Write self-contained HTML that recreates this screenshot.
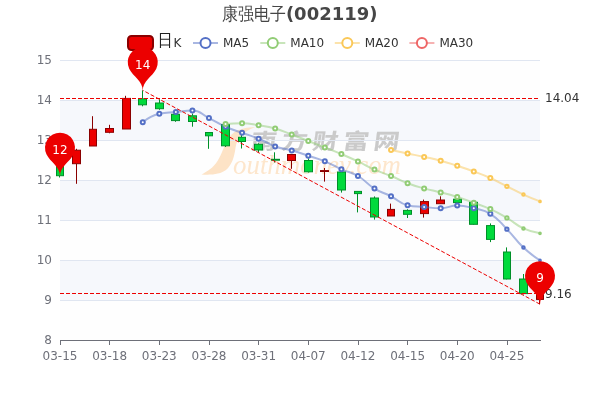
<!DOCTYPE html>
<html lang="zh"><head><meta charset="utf-8"><title>康强电子(002119)</title>
<style>html,body{margin:0;padding:0;background:#fff;overflow:hidden}svg{display:block;will-change:transform}text{font-family:'DejaVu Sans','Liberation Sans','WenQuanYi Zen Hei',sans-serif;font-size:12px}</style></head><body>
<svg width="600" height="400" viewBox="0 0 600 400">
<rect width="600" height="400" fill="#fff"/>
<rect x="60" y="60" width="480" height="40" fill="#fefefe"/>
<rect x="60" y="100" width="480" height="40" fill="#f6f8fc"/>
<rect x="60" y="140" width="480" height="40" fill="#fefefe"/>
<rect x="60" y="180" width="480" height="40" fill="#f6f8fc"/>
<rect x="60" y="220" width="480" height="40" fill="#fefefe"/>
<rect x="60" y="260" width="480" height="40" fill="#f6f8fc"/>
<rect x="60" y="300" width="480" height="40" fill="#fefefe"/>
<g id="wm">
<path d="M255.1 127.3C246 126.8 236 129.5 230 136C224 145 222 154 217.5 161C213 168 208 171 201.5 174.4C211 175.3 221 174 226 170C232 165 234.5 156 235.5 148C236.8 139 242 132 255.1 127.3Z" fill="#fde3c6"/>
<text transform="translate(250 148.8) skewX(-8) scale(1.2 1)" x="0 25.6 51.2 76.8 102.4" y="0" style="font-family:'Noto Sans CJK SC','WenQuanYi Zen Hei',sans-serif;font-weight:700;font-size:21.5px" fill="#cacaca" stroke="#cacaca" stroke-width="0.15">南方财富网</text>
<text style="font-family:'Liberation Serif','DejaVu Serif',serif;font-style:italic;font-size:27px" fill="#fde6cc"><tspan x="223.5" y="160" style="font-size:11px" fill="#fde3c6">S</tspan><tspan x="233" y="173.8" textLength="168" lengthAdjust="spacingAndGlyphs">outhmoney.com</tspan></text>
</g>
<rect x="60" y="60" width="480" height="1" fill="#E0E6F1"/>
<rect x="60" y="100" width="480" height="1" fill="#E0E6F1"/>
<rect x="60" y="140" width="480" height="1" fill="#E0E6F1"/>
<rect x="60" y="180" width="480" height="1" fill="#E0E6F1"/>
<rect x="60" y="220" width="480" height="1" fill="#E0E6F1"/>
<rect x="60" y="260" width="480" height="1" fill="#E0E6F1"/>
<rect x="60" y="300" width="480" height="1" fill="#E0E6F1"/>
<rect x="60" y="340" width="481" height="1" fill="#6E7079"/>
<rect x="60.0" y="340" width="1" height="5" fill="#6E7079"/>
<text x="60.00" y="360" text-anchor="middle" fill="#6E7079">03-15</text>
<rect x="109.0" y="340" width="1" height="5" fill="#6E7079"/>
<text x="109.66" y="360" text-anchor="middle" fill="#6E7079">03-18</text>
<rect x="159.0" y="340" width="1" height="5" fill="#6E7079"/>
<text x="159.31" y="360" text-anchor="middle" fill="#6E7079">03-23</text>
<rect x="209.0" y="340" width="1" height="5" fill="#6E7079"/>
<text x="208.97" y="360" text-anchor="middle" fill="#6E7079">03-28</text>
<rect x="258.0" y="340" width="1" height="5" fill="#6E7079"/>
<text x="258.62" y="360" text-anchor="middle" fill="#6E7079">03-31</text>
<rect x="308.0" y="340" width="1" height="5" fill="#6E7079"/>
<text x="308.28" y="360" text-anchor="middle" fill="#6E7079">04-07</text>
<rect x="358.0" y="340" width="1" height="5" fill="#6E7079"/>
<text x="357.93" y="360" text-anchor="middle" fill="#6E7079">04-12</text>
<rect x="407.0" y="340" width="1" height="5" fill="#6E7079"/>
<text x="407.59" y="360" text-anchor="middle" fill="#6E7079">04-15</text>
<rect x="457.0" y="340" width="1" height="5" fill="#6E7079"/>
<text x="457.24" y="360" text-anchor="middle" fill="#6E7079">04-20</text>
<rect x="507.0" y="340" width="1" height="5" fill="#6E7079"/>
<text x="506.90" y="360" text-anchor="middle" fill="#6E7079">04-25</text>
<text x="52" y="64.1" text-anchor="end" fill="#6E7079">15</text>
<text x="52" y="104.1" text-anchor="end" fill="#6E7079">14</text>
<text x="52" y="144.1" text-anchor="end" fill="#6E7079">13</text>
<text x="52" y="184.1" text-anchor="end" fill="#6E7079">12</text>
<text x="52" y="224.1" text-anchor="end" fill="#6E7079">11</text>
<text x="52" y="264.1" text-anchor="end" fill="#6E7079">10</text>
<text x="52" y="304.1" text-anchor="end" fill="#6E7079">9</text>
<text x="52" y="344.1" text-anchor="end" fill="#6E7079">8</text>
<g id="candles">
<path d="M59.5 163.0V163.0M59.5 175.7V177.5" stroke="#008F28" stroke-width="1" fill="none"/>
<rect x="56.5" y="163.0" width="7.0" height="12.7" fill="#00da3c" stroke="#008F28" stroke-width="1"/>
<path d="M76.5 148.8V150.2M76.5 163.7V183.8" stroke="#8A0000" stroke-width="1" fill="none"/>
<rect x="72.5" y="150.2" width="8.0" height="13.5" fill="#ec0000" stroke="#8A0000" stroke-width="1"/>
<path d="M92.5 116.2V129.3M92.5 146.0V146.0" stroke="#8A0000" stroke-width="1" fill="none"/>
<rect x="89.5" y="129.3" width="7.0" height="16.7" fill="#ec0000" stroke="#8A0000" stroke-width="1"/>
<path d="M109.5 124.8V128.5M109.5 132.3V133.3" stroke="#8A0000" stroke-width="1" fill="none"/>
<rect x="105.5" y="128.5" width="8.0" height="3.8" fill="#ec0000" stroke="#8A0000" stroke-width="1"/>
<path d="M125.5 95.8V98.4M125.5 129.0V129.0" stroke="#8A0000" stroke-width="1" fill="none"/>
<rect x="122.5" y="98.4" width="8.0" height="30.6" fill="#ec0000" stroke="#8A0000" stroke-width="1"/>
<path d="M142.5 90.3V98.8M142.5 104.8V106.3" stroke="#008F28" stroke-width="1" fill="none"/>
<rect x="138.5" y="98.8" width="8.0" height="6.0" fill="#00da3c" stroke="#008F28" stroke-width="1"/>
<path d="M159.5 99.3V103.0M159.5 108.7V109.8" stroke="#008F28" stroke-width="1" fill="none"/>
<rect x="155.5" y="103.0" width="8.0" height="5.7" fill="#00da3c" stroke="#008F28" stroke-width="1"/>
<path d="M175.5 112.8V114.3M175.5 120.6V121.8" stroke="#008F28" stroke-width="1" fill="none"/>
<rect x="171.5" y="114.3" width="8.0" height="6.3" fill="#00da3c" stroke="#008F28" stroke-width="1"/>
<path d="M192.5 113.5V115.8M192.5 121.5V126.7" stroke="#008F28" stroke-width="1" fill="none"/>
<rect x="188.5" y="115.8" width="8.0" height="5.7" fill="#00da3c" stroke="#008F28" stroke-width="1"/>
<path d="M208.5 132.5V132.5M208.5 135.8V148.8" stroke="#008F28" stroke-width="1" fill="none"/>
<rect x="205.5" y="132.5" width="7.0" height="3.3" fill="#00da3c" stroke="#008F28" stroke-width="1"/>
<path d="M225.5 122.5V124.5M225.5 145.8V147.0" stroke="#008F28" stroke-width="1" fill="none"/>
<rect x="221.5" y="124.5" width="8.0" height="21.3" fill="#00da3c" stroke="#008F28" stroke-width="1"/>
<path d="M241.5 135.0V137.3M241.5 141.5V148.5" stroke="#008F28" stroke-width="1" fill="none"/>
<rect x="238.5" y="137.3" width="7.0" height="4.2" fill="#00da3c" stroke="#008F28" stroke-width="1"/>
<path d="M258.5 143.3V144.3M258.5 150.0V152.3" stroke="#008F28" stroke-width="1" fill="none"/>
<rect x="254.5" y="144.3" width="8.0" height="5.7" fill="#00da3c" stroke="#008F28" stroke-width="1"/>
<path d="M274.5 152.3V159.3M274.5 160.2V162.5" stroke="#008F28" stroke-width="1" fill="none"/>
<rect x="271.5" y="159.3" width="8.0" height="0.9" fill="#00da3c" stroke="#008F28" stroke-width="1"/>
<path d="M291.5 154.0V154.5M291.5 160.5V168.8" stroke="#8A0000" stroke-width="1" fill="none"/>
<rect x="287.5" y="154.5" width="8.0" height="6.0" fill="#ec0000" stroke="#8A0000" stroke-width="1"/>
<path d="M308.5 158.3V160.5M308.5 171.8V172.5" stroke="#008F28" stroke-width="1" fill="none"/>
<rect x="304.5" y="160.5" width="8.0" height="11.3" fill="#00da3c" stroke="#008F28" stroke-width="1"/>
<path d="M324.5 168.0V170.6M324.5 171.5V181.6" stroke="#8A0000" stroke-width="1" fill="none"/>
<rect x="320.5" y="170.6" width="8.0" height="0.9" fill="#ec0000" stroke="#8A0000" stroke-width="1"/>
<path d="M341.5 172.0V172.0M341.5 190.0V192.6" stroke="#008F28" stroke-width="1" fill="none"/>
<rect x="337.5" y="172.0" width="8.0" height="18.0" fill="#00da3c" stroke="#008F28" stroke-width="1"/>
<path d="M357.5 191.4V191.4M357.5 193.6V212.4" stroke="#008F28" stroke-width="1" fill="none"/>
<rect x="354.5" y="191.4" width="7.0" height="2.2" fill="#00da3c" stroke="#008F28" stroke-width="1"/>
<path d="M374.5 196.4V198.0M374.5 217.0V219.6" stroke="#008F28" stroke-width="1" fill="none"/>
<rect x="370.5" y="198.0" width="8.0" height="19.0" fill="#00da3c" stroke="#008F28" stroke-width="1"/>
<path d="M390.5 203.6V209.4M390.5 216.0V216.0" stroke="#8A0000" stroke-width="1" fill="none"/>
<rect x="387.5" y="209.4" width="7.0" height="6.6" fill="#ec0000" stroke="#8A0000" stroke-width="1"/>
<path d="M407.5 209.3V210.4M407.5 214.3V218.0" stroke="#008F28" stroke-width="1" fill="none"/>
<rect x="403.5" y="210.4" width="8.0" height="3.9" fill="#00da3c" stroke="#008F28" stroke-width="1"/>
<path d="M423.5 199.6V201.6M423.5 213.6V217.6" stroke="#8A0000" stroke-width="1" fill="none"/>
<rect x="420.5" y="201.6" width="8.0" height="12.0" fill="#ec0000" stroke="#8A0000" stroke-width="1"/>
<path d="M440.5 196.3V200.0M440.5 203.7V204.0" stroke="#8A0000" stroke-width="1" fill="none"/>
<rect x="436.5" y="200.0" width="8.0" height="3.7" fill="#ec0000" stroke="#8A0000" stroke-width="1"/>
<path d="M456.5 197.4V199.2M456.5 202.6V202.6" stroke="#008F28" stroke-width="1" fill="none"/>
<rect x="453.5" y="199.2" width="8.0" height="3.4" fill="#00da3c" stroke="#008F28" stroke-width="1"/>
<path d="M473.5 201.5V202.3M473.5 224.3V224.8" stroke="#008F28" stroke-width="1" fill="none"/>
<rect x="469.5" y="202.3" width="8.0" height="22.0" fill="#00da3c" stroke="#008F28" stroke-width="1"/>
<path d="M490.5 223.4V225.6M490.5 239.4V242.1" stroke="#008F28" stroke-width="1" fill="none"/>
<rect x="486.5" y="225.6" width="8.0" height="13.8" fill="#00da3c" stroke="#008F28" stroke-width="1"/>
<path d="M506.5 247.4V252.0M506.5 279.0V279.4" stroke="#008F28" stroke-width="1" fill="none"/>
<rect x="503.5" y="252.0" width="7.0" height="27.0" fill="#00da3c" stroke="#008F28" stroke-width="1"/>
<path d="M523.5 274.0V279.0M523.5 293.6V294.4" stroke="#008F28" stroke-width="1" fill="none"/>
<rect x="519.5" y="279.0" width="8.0" height="14.6" fill="#00da3c" stroke="#008F28" stroke-width="1"/>
<path d="M539.5 293.2V293.2M539.5 299.4V304.2" stroke="#8A0000" stroke-width="1" fill="none"/>
<rect x="536.5" y="293.2" width="7.0" height="6.2" fill="#ec0000" stroke="#8A0000" stroke-width="1"/>
</g>
<defs><clipPath id="gc"><rect x="58" y="58" width="483" height="284"/></clipPath></defs>
<g id="MA5" clip-path="url(#gc)">
<path d="M142.76 122.20 C142.76 122.20 150.59 115.81 159.31 113.80 C167.14 112.00 167.58 112.83 175.86 112.00 C184.13 111.18 184.52 110.50 192.41 110.50 C201.07 110.50 200.79 114.09 208.97 118.10 C217.35 122.21 217.00 122.98 225.52 126.75 C233.55 130.30 233.79 129.75 242.07 132.75 C250.34 135.75 250.50 135.38 258.62 138.75 C267.05 142.25 266.60 143.47 275.17 146.50 C283.15 149.32 283.53 148.17 291.72 150.45 C300.08 152.77 300.03 153.00 308.28 155.70 C316.58 158.42 316.76 157.99 324.83 161.30 C333.31 164.79 332.98 165.57 341.38 169.30 C349.53 172.92 350.29 171.54 357.93 176.00 C366.84 181.19 365.67 183.19 374.48 188.60 C382.22 193.34 382.88 192.20 391.03 196.30 C399.44 200.53 398.80 203.27 407.59 205.25 C415.36 207.00 415.85 206.26 424.14 207.00 C432.40 207.74 432.45 208.20 440.69 208.20 C449.01 208.20 448.97 205.60 457.24 205.60 C465.52 205.60 465.68 206.29 473.79 208.30 C482.23 210.39 483.14 209.25 490.34 213.80 C499.69 219.70 498.99 221.13 506.90 229.20 C515.55 238.03 514.48 239.15 523.45 247.60 C531.03 254.75 540.00 260.40 540.00 260.40" fill="none" stroke="#5470c6" stroke-opacity="0.5" stroke-width="2" stroke-linejoin="bevel"/>
</g>
<g id="MA5-pts">
<circle cx="142.76" cy="122.20" r="2.00" fill="#fff" stroke="#5470c6" stroke-width="2"/>
<circle cx="159.31" cy="113.80" r="2.00" fill="#fff" stroke="#5470c6" stroke-width="2"/>
<circle cx="175.86" cy="112.00" r="2.00" fill="#fff" stroke="#5470c6" stroke-width="2"/>
<circle cx="192.41" cy="110.50" r="2.00" fill="#fff" stroke="#5470c6" stroke-width="2"/>
<circle cx="208.97" cy="118.10" r="2.00" fill="#fff" stroke="#5470c6" stroke-width="2"/>
<circle cx="225.52" cy="126.75" r="2.00" fill="#fff" stroke="#5470c6" stroke-width="2"/>
<circle cx="242.07" cy="132.75" r="2.00" fill="#fff" stroke="#5470c6" stroke-width="2"/>
<circle cx="258.62" cy="138.75" r="2.00" fill="#fff" stroke="#5470c6" stroke-width="2"/>
<circle cx="275.17" cy="146.50" r="2.00" fill="#fff" stroke="#5470c6" stroke-width="2"/>
<circle cx="291.72" cy="150.45" r="2.00" fill="#fff" stroke="#5470c6" stroke-width="2"/>
<circle cx="308.28" cy="155.70" r="2.00" fill="#fff" stroke="#5470c6" stroke-width="2"/>
<circle cx="324.83" cy="161.30" r="2.00" fill="#fff" stroke="#5470c6" stroke-width="2"/>
<circle cx="341.38" cy="169.30" r="2.00" fill="#fff" stroke="#5470c6" stroke-width="2"/>
<circle cx="357.93" cy="176.00" r="2.00" fill="#fff" stroke="#5470c6" stroke-width="2"/>
<circle cx="374.48" cy="188.60" r="2.00" fill="#fff" stroke="#5470c6" stroke-width="2"/>
<circle cx="391.03" cy="196.30" r="2.00" fill="#fff" stroke="#5470c6" stroke-width="2"/>
<circle cx="407.59" cy="205.25" r="2.00" fill="#fff" stroke="#5470c6" stroke-width="2"/>
<circle cx="424.14" cy="207.00" r="2.00" fill="#fff" stroke="#5470c6" stroke-width="2"/>
<circle cx="440.69" cy="208.20" r="2.00" fill="#fff" stroke="#5470c6" stroke-width="2"/>
<circle cx="457.24" cy="205.60" r="2.00" fill="#fff" stroke="#5470c6" stroke-width="2"/>
<circle cx="473.79" cy="208.30" r="2.00" fill="#fff" stroke="#5470c6" stroke-width="2"/>
<circle cx="490.34" cy="213.80" r="2.00" fill="#fff" stroke="#5470c6" stroke-width="2"/>
<circle cx="506.90" cy="229.20" r="1.66" fill="#fff" stroke="#5470c6" stroke-width="2"/>
<circle cx="523.45" cy="247.60" r="1.24" fill="#fff" stroke="#5470c6" stroke-width="2"/>
<circle cx="540.00" cy="260.40" r="0.84" fill="#fff" stroke="#5470c6" stroke-width="2"/>
</g>
<g id="MA10" clip-path="url(#gc)">
<path d="M225.52 124.05 C225.52 124.05 233.82 123.30 242.07 123.30 C250.37 123.30 250.40 123.95 258.62 125.25 C266.95 126.57 267.07 126.27 275.17 128.55 C283.62 130.92 283.49 131.45 291.72 134.55 C300.04 137.68 300.00 137.78 308.28 141.00 C316.55 144.22 316.57 144.18 324.83 147.45 C333.12 150.73 333.16 150.64 341.38 154.10 C349.71 157.61 349.74 157.57 357.93 161.40 C366.29 165.32 366.04 165.88 374.48 169.60 C382.59 173.18 382.83 172.63 391.03 176.00 C399.38 179.43 399.15 180.04 407.59 183.20 C415.70 186.24 415.78 186.08 424.14 188.40 C432.34 190.68 432.45 190.26 440.69 192.40 C449.00 194.56 449.05 194.43 457.24 197.00 C465.60 199.63 465.56 199.79 473.79 202.80 C482.11 205.84 482.30 205.43 490.34 209.10 C498.86 212.98 498.81 213.18 506.90 217.90 C515.36 222.83 514.65 224.31 523.45 228.40 C531.20 232.01 540.00 233.30 540.00 233.30" fill="none" stroke="#91cc75" stroke-opacity="0.5" stroke-width="2" stroke-linejoin="bevel"/>
</g>
<g id="MA10-pts">
<circle cx="225.52" cy="124.05" r="2.00" fill="#fff" stroke="#91cc75" stroke-width="2"/>
<circle cx="242.07" cy="123.30" r="2.00" fill="#fff" stroke="#91cc75" stroke-width="2"/>
<circle cx="258.62" cy="125.25" r="2.00" fill="#fff" stroke="#91cc75" stroke-width="2"/>
<circle cx="275.17" cy="128.55" r="2.00" fill="#fff" stroke="#91cc75" stroke-width="2"/>
<circle cx="291.72" cy="134.55" r="2.00" fill="#fff" stroke="#91cc75" stroke-width="2"/>
<circle cx="308.28" cy="141.00" r="2.00" fill="#fff" stroke="#91cc75" stroke-width="2"/>
<circle cx="324.83" cy="147.45" r="2.00" fill="#fff" stroke="#91cc75" stroke-width="2"/>
<circle cx="341.38" cy="154.10" r="2.00" fill="#fff" stroke="#91cc75" stroke-width="2"/>
<circle cx="357.93" cy="161.40" r="2.00" fill="#fff" stroke="#91cc75" stroke-width="2"/>
<circle cx="374.48" cy="169.60" r="2.00" fill="#fff" stroke="#91cc75" stroke-width="2"/>
<circle cx="391.03" cy="176.00" r="2.00" fill="#fff" stroke="#91cc75" stroke-width="2"/>
<circle cx="407.59" cy="183.20" r="2.00" fill="#fff" stroke="#91cc75" stroke-width="2"/>
<circle cx="424.14" cy="188.40" r="2.00" fill="#fff" stroke="#91cc75" stroke-width="2"/>
<circle cx="440.69" cy="192.40" r="2.00" fill="#fff" stroke="#91cc75" stroke-width="2"/>
<circle cx="457.24" cy="197.00" r="2.00" fill="#fff" stroke="#91cc75" stroke-width="2"/>
<circle cx="473.79" cy="202.80" r="2.00" fill="#fff" stroke="#91cc75" stroke-width="2"/>
<circle cx="490.34" cy="209.10" r="2.00" fill="#fff" stroke="#91cc75" stroke-width="2"/>
<circle cx="506.90" cy="217.90" r="1.66" fill="#fff" stroke="#91cc75" stroke-width="2"/>
<circle cx="523.45" cy="228.40" r="1.24" fill="#fff" stroke="#91cc75" stroke-width="2"/>
<circle cx="540.00" cy="233.30" r="0.84" fill="#fff" stroke="#91cc75" stroke-width="2"/>
</g>
<g id="MA20" clip-path="url(#gc)">
<path d="M391.03 150.10 C391.03 150.10 399.31 151.80 407.59 153.50 C415.86 155.20 415.88 155.10 424.14 156.90 C432.43 158.70 432.50 158.50 440.69 160.70 C449.05 162.95 449.01 163.13 457.24 165.80 C465.56 168.50 465.59 168.43 473.79 171.45 C482.14 174.53 482.23 174.36 490.34 178.00 C498.78 181.79 498.62 182.16 506.90 186.30 C515.17 190.44 515.04 190.71 523.45 194.55 C531.59 198.26 540.00 201.40 540.00 201.40" fill="none" stroke="#fac858" stroke-opacity="0.5" stroke-width="2" stroke-linejoin="bevel"/>
</g>
<g id="MA20-pts">
<circle cx="391.03" cy="150.10" r="2.00" fill="#fff" stroke="#fac858" stroke-width="2"/>
<circle cx="407.59" cy="153.50" r="2.00" fill="#fff" stroke="#fac858" stroke-width="2"/>
<circle cx="424.14" cy="156.90" r="2.00" fill="#fff" stroke="#fac858" stroke-width="2"/>
<circle cx="440.69" cy="160.70" r="2.00" fill="#fff" stroke="#fac858" stroke-width="2"/>
<circle cx="457.24" cy="165.80" r="2.00" fill="#fff" stroke="#fac858" stroke-width="2"/>
<circle cx="473.79" cy="171.45" r="2.00" fill="#fff" stroke="#fac858" stroke-width="2"/>
<circle cx="490.34" cy="178.00" r="2.00" fill="#fff" stroke="#fac858" stroke-width="2"/>
<circle cx="506.90" cy="186.30" r="1.66" fill="#fff" stroke="#fac858" stroke-width="2"/>
<circle cx="523.45" cy="194.55" r="1.24" fill="#fff" stroke="#fac858" stroke-width="2"/>
<circle cx="540.00" cy="201.40" r="0.84" fill="#fff" stroke="#fac858" stroke-width="2"/>
</g>
<g id="legend">
<rect x="128" y="36" width="25" height="14" rx="3.5" fill="#ec0000" stroke="#8A0000" stroke-width="2"/>
<text x="157.4" y="45.9" style="font-family:'WenQuanYi Zen Hei','Noto Sans CJK SC',sans-serif;font-size:17px" transform="translate(157.4 0) scale(0.9 1) translate(-157.4 0)" fill="#222">日</text>
<text x="173.6" y="47" fill="#333">K</text>
<path d="M193.0 43H218.0" stroke="#5470c6" stroke-width="2" stroke-opacity="0.5"/>
<circle cx="205.5" cy="43" r="5" fill="#fff" stroke="#5470c6" stroke-width="2"/>
<text x="223.0" y="47" fill="#333">MA5</text>
<path d="M260.3 43H285.3" stroke="#91cc75" stroke-width="2" stroke-opacity="0.5"/>
<circle cx="272.8" cy="43" r="5" fill="#fff" stroke="#91cc75" stroke-width="2"/>
<text x="290.3" y="47" fill="#333">MA10</text>
<path d="M334.8 43H359.8" stroke="#fac858" stroke-width="2" stroke-opacity="0.5"/>
<circle cx="347.3" cy="43" r="5" fill="#fff" stroke="#fac858" stroke-width="2"/>
<text x="364.8" y="47" fill="#333">MA20</text>
<path d="M409.4 43H434.4" stroke="#ee6666" stroke-width="2" stroke-opacity="0.5"/>
<circle cx="421.9" cy="43" r="5" fill="#fff" stroke="#ee6666" stroke-width="2"/>
<text x="439.4" y="47" fill="#333">MA30</text>
</g>
<text x="222" y="19.9" style="font-family:'WenQuanYi Zen Hei','Noto Sans CJK SC',sans-serif;font-size:18px" transform="translate(222 0) scale(0.89 1) translate(-222 0)" fill="#464646">康强电子</text>
<text x="285.9" y="19.7" style="font-weight:bold;font-size:18px" fill="#464646">(002119)</text>
<g id="marklines" stroke="#ec0000" stroke-width="1" stroke-dasharray="4 2" fill="none">
<path d="M142.76 90.30L540.00 304.20" stroke-dashoffset="3"/>
<path d="M60 293.5H540"/>
<path d="M60 98.5H540"/>
</g>
<text x="545" y="102" fill="#333">14.04</text>
<text x="545" y="298" fill="#333">9.16</text>
<path d="M129.21 68.66 A15.00 15.00 0 1 1 156.31 68.66 C152.45 76.79 142.76 80.30 142.76 90.80 C142.76 80.30 133.06 76.79 129.21 68.66 Z" fill="#ec0000"/>
<text x="142.76" y="69.30" text-anchor="middle" fill="#fff">14</text>
<path d="M526.45 282.56 A15.00 15.00 0 1 1 553.55 282.56 C549.70 290.69 540.00 294.20 540.00 304.70 C540.00 294.20 530.30 290.69 526.45 282.56 Z" fill="#ec0000"/>
<text x="540.00" y="282.30" text-anchor="middle" fill="#fff">9</text>
<path d="M46.45 154.16 A15.00 15.00 0 1 1 73.55 154.16 C69.70 162.29 60.00 165.80 60.00 176.30 C60.00 165.80 50.30 162.29 46.45 154.16 Z" fill="#ec0000"/>
<text x="60.00" y="153.90" text-anchor="middle" fill="#fff">12</text>
</svg></body></html>
